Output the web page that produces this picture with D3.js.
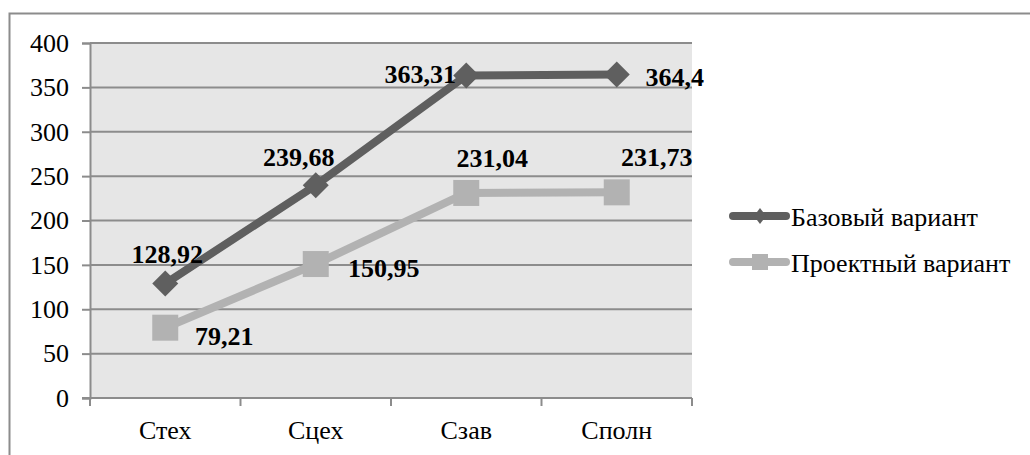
<!DOCTYPE html>
<html>
<head>
<meta charset="utf-8">
<script src="https://cdn.jsdelivr.net/npm/d3@7"></script>
<style>
  body { margin: 0; background: #fff; }
  svg { display: block; }
</style>
</head>
<body>
<svg id="chart" width="1030" height="455"></svg>
<script>
var categories = ["Стех", "Сцех", "Сзав", "Сполн"];
var baseValues = [128.92, 239.68, 363.31, 364.4];
var projValues = [79.21, 150.95, 231.04, 231.73];
var baseLabels = ["128,92", "239,68", "363,31", "364,4"];
var projLabels = ["79,21", "150,95", "231,04", "231,73"];
var yTicks = [0, 50, 100, 150, 200, 250, 300, 350, 400];
var seriesNames = ["Базовый вариант", "Проектный вариант"];

var svg = d3.select("#chart");
var font = "'Liberation Serif', 'Times New Roman', serif";

// plot box (note: "top" clashes with window.top, so use plot*)
var plotL = 90, plotR = 692, plotT = 43, plotB = 398;

var x = d3.scaleBand().domain(categories).range([plotL, plotR]);
var y = d3.scaleLinear().domain([0, 400]).range([plotB, plotT]);

// outer frame (runs past the window on right and bottom)
svg.append("rect")
    .attr("x", 9.5).attr("y", 13.5)
    .attr("width", 1040).attr("height", 460)
    .attr("fill", "none")
    .attr("stroke", "#8c8c8c")
    .attr("stroke-width", 2);

// plot background
svg.append("rect")
    .attr("x", plotL).attr("y", plotT)
    .attr("width", plotR - plotL).attr("height", plotB - plotT)
    .attr("fill", "#e6e6e6");

// y axis
var yAxis = d3.axisLeft(y).tickValues(yTicks).tickSize(8).tickPadding(13);
var gy = svg.append("g").attr("transform", "translate(" + plotL + ",0)").call(yAxis);
gy.select(".domain").attr("stroke", "#8c8c8c").attr("stroke-width", 2);
gy.selectAll(".tick line").attr("stroke", "#8c8c8c").attr("stroke-width", 2);
gy.selectAll(".tick text")
    .attr("font-family", font).attr("font-size", 26).attr("fill", "#000");

// gridlines
svg.append("g").selectAll("line")
    .data(yTicks.slice(1))
    .enter().append("line")
    .attr("x1", plotL).attr("x2", plotR)
    .attr("y1", function(d) { return y(d); })
    .attr("y2", function(d) { return y(d); })
    .attr("stroke", "#8c8c8c").attr("stroke-width", 2);

// x axis: ticks at category boundaries
var xAxis = d3.axisBottom(x).tickSize(0).tickPadding(23);
var gx = svg.append("g").attr("transform", "translate(0," + plotB + ")").call(xAxis);
gx.select(".domain").remove();
gx.selectAll(".tick text")
    .attr("font-family", font).attr("font-size", 26).attr("fill", "#000");
var bounds = categories.map(function(c) { return x(c); }).concat([plotR]);
svg.append("line")
    .attr("x1", plotL - 8).attr("x2", plotR)
    .attr("y1", plotB).attr("y2", plotB)
    .attr("stroke", "#8c8c8c").attr("stroke-width", 2);
svg.append("g").selectAll("line")
    .data(bounds).enter().append("line")
    .attr("x1", function(d) { return d; }).attr("x2", function(d) { return d; })
    .attr("y1", plotB).attr("y2", plotB + 8)
    .attr("stroke", "#8c8c8c").attr("stroke-width", 2);

function cx(i) { return x(categories[i]) + x.bandwidth() / 2; }

var line = d3.line()
    .x(function(d, i) { return cx(i); })
    .y(function(d) { return y(d); });

var colBase = "#5f5f5f", colProj = "#b2b2b2";

svg.append("path").datum(projValues)
    .attr("d", line).attr("fill", "none")
    .attr("stroke", colProj).attr("stroke-width", 8);
svg.append("path").datum(baseValues)
    .attr("d", line).attr("fill", "none")
    .attr("stroke", colBase).attr("stroke-width", 8);

var diamond = "M0,-13L13,0L0,13L-13,0Z";

svg.append("g").selectAll("rect")
    .data(projValues).enter().append("rect")
    .attr("x", function(d, i) { return cx(i) - 13; })
    .attr("y", function(d) { return y(d) - 13; })
    .attr("width", 26).attr("height", 26)
    .attr("fill", colProj);

svg.append("g").selectAll("path")
    .data(baseValues).enter().append("path")
    .attr("d", diamond)
    .attr("transform", function(d, i) { return "translate(" + cx(i) + "," + y(d) + ")"; })
    .attr("fill", colBase);

// data labels: offsets relative to each point
var baseOff = [[2, -21], [-17, -19], [-46, 7], [58, 11]];
var projOff = [[59, 17], [68, 13], [26, -26], [40, -26]];

function addLabels(vals, labels, offs) {
    svg.append("g").selectAll("text")
        .data(vals).enter().append("text")
        .attr("x", function(d, i) { return cx(i) + offs[i][0]; })
        .attr("y", function(d, i) { return y(d) + offs[i][1]; })
        .attr("text-anchor", "middle")
        .attr("font-family", font).attr("font-size", 26).attr("font-weight", "bold")
        .attr("fill", "#000")
        .text(function(d, i) { return labels[i]; });
}
addLabels(baseValues, baseLabels, baseOff);
addLabels(projValues, projLabels, projOff);

// legend
var legend = svg.append("g");
var legY = [216, 262];
[colBase, colProj].forEach(function(c, i) {
    legend.append("line")
        .attr("x1", 733).attr("x2", 786)
        .attr("y1", legY[i]).attr("y2", legY[i])
        .attr("stroke", c).attr("stroke-width", 8).attr("stroke-linecap", "round");
    if (i === 0) {
        legend.append("path").attr("d", "M0,-8L6,0L0,8L-6,0Z")
            .attr("transform", "translate(760," + legY[i] + ")").attr("fill", c);
    } else {
        legend.append("rect").attr("x", 752).attr("y", legY[i] - 8)
            .attr("width", 16).attr("height", 16).attr("fill", c);
    }
    legend.append("text")
        .attr("x", 791).attr("y", legY[i] + 10)
        .attr("font-family", font).attr("font-size", 26).attr("fill", "#000")
        .text(seriesNames[i]);
});
</script>
</body>
</html>
